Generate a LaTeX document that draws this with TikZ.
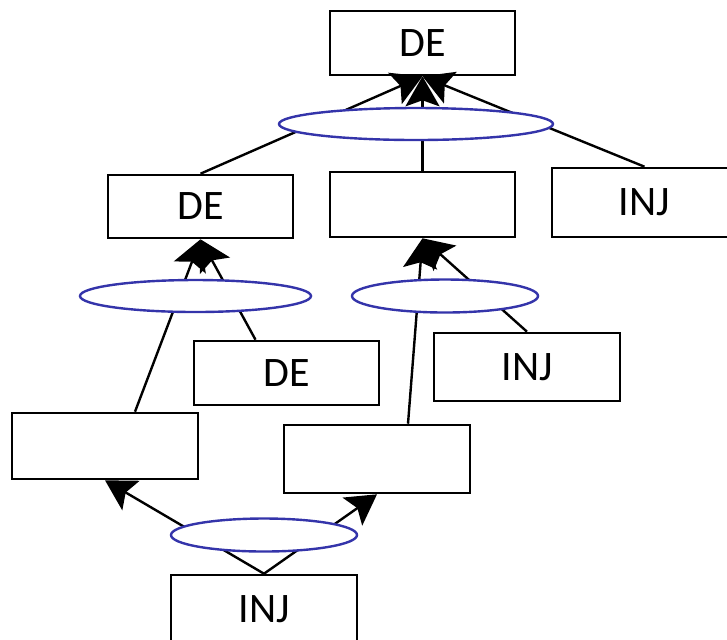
\documentclass[tikz,border=0pt]{standalone}
\usepackage{fontspec}
\setmainfont{Carlito}
\usetikzlibrary{shapes.geometric,arrows.meta}
\definecolor{hyperblue}{RGB}{52,52,170}
\begin{document}
\begin{tikzpicture}[
x=0.5pt,y=-0.5pt,
box/.style={draw,line width=1.3pt,inner sep=0,minimum width=92.5pt,minimum height=32pt,font=\fontsize{21}{24}\selectfont},
hyper/.style={ellipse,draw=hyperblue,fill=white,line width=1.2pt,inner sep=0},
edge/.style={line width=1.2pt},
arc/.style={edge,-{Stealth[length=15pt,width=17pt,inset=3pt]}},
]
\useasboundingbox(0,0)rectangle(727,639);
\clip(0,0)rectangle(727,639);
%boxes
\node[box]at(422.5,43)(deTop){DE};
\node[box,minimum height=31.5pt]at(200.5,206.5)(deLeft){DE};
\node[box,minimum height=32.5pt]at(422.5,204.5)(midCenter){};
\node[box,minimum height=34.5pt]at(644.5,202.5)(injRight){INJ};
\node[box]at(286.5,373)(deLow){DE};
\node[box,minimum width=93pt,minimum height=34pt]at(527,367)(injMid){INJ};
\node[box,minimum width=93pt,minimum height=33pt]at(105,446)(leftEmpty){};
\node[box,minimum width=93pt,minimum height=34pt]at(377,459)(lowCenter){};
\node[box,minimum width=93pt,minimum height=34pt]at(264,609)(injBottom){INJ};

%top hyperedge
\draw[arc](deLeft.north)--(deTop.south);
\draw[arc](midCenter.north)--(deTop.south);
\draw[arc](injRight.north)--(deTop.south);
%left hyperedge
\draw[arc]([xshift=15pt]leftEmpty.north)--(deLeft.south);
\draw[arc]([xshift=-15.5pt]deLow.north)--(deLeft.south);
%middle hyperedge
\draw[arc]([xshift=15.5pt]lowCenter.north)--(midCenter.south);
\draw[arc](injMid.north)--(midCenter.south);
%bottom hyperedge
\draw[arc](injBottom.north)--(leftEmpty.south);
\draw[arc](injBottom.north)--(lowCenter.south);

%ellipses
\node[hyper,minimum width=137pt,minimum height=16pt]at(416,124)(topJoin){};
\node[hyper,minimum width=115.5pt,minimum height=16pt]at(195.5,296)(leftJoin){};
\node[hyper,minimum width=93pt,minimum height=16.5pt]at(445,296)(midJoin){};
\node[hyper,minimum width=93pt,minimum height=16.5pt]at(264,535)(bottomJoin){};
\end{tikzpicture}
\end{document}
